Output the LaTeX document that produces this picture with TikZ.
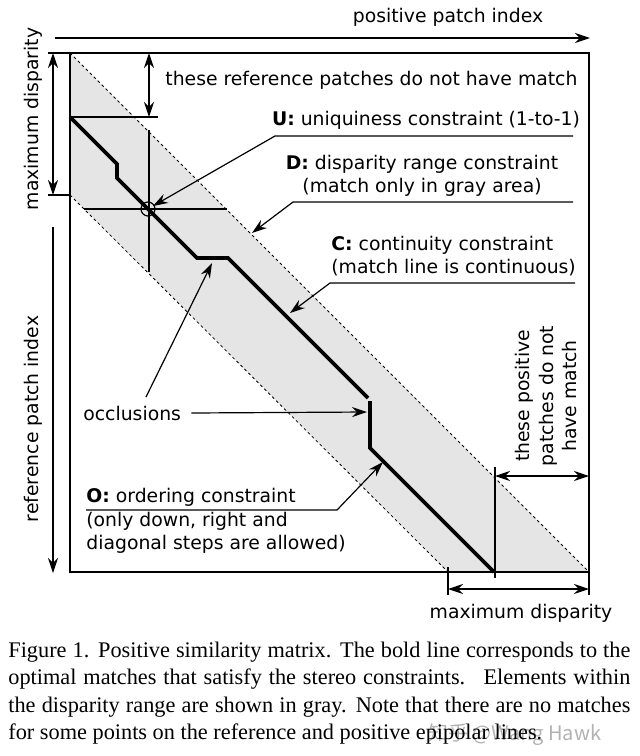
\documentclass[tikz,border=0pt]{standalone}
\usepackage{fontspec}
\setmainfont{Liberation Serif}
\newfontfamily\dejavu{DejaVu Sans}
\newfontfamily\cjk{Noto Sans CJK SC}
\usetikzlibrary{arrows.meta, positioning}

\begin{document}
\begin{tikzpicture}[
    x=0.5pt, y=-0.5pt,
    every node/.style={font=\dejavu\fontsize{9.4}{11.6}\selectfont, inner sep=0pt},
    boxline/.style={line width=0.9pt},
    fine/.style={line width=0.6pt},
    lim/.style={line width=0.4pt, dash pattern=on 1.4pt off 1.4pt},
    band/.style={fill=black!10},
    match/.style={line width=1.9pt},
    arr/.style={-{Stealth[length=7.5pt, width=5pt, inset=2.5pt]}, line width=0.6pt},
    darr/.style={{Stealth[length=7.5pt, width=5pt, inset=2.5pt]}-{Stealth[length=7.5pt, width=5pt, inset=2.5pt]}, line width=0.6pt},
    capline/.style={font=\rmfamily\fontsize{11.15}{13.8}\selectfont, anchor=base west},
  ]
  \useasboundingbox (0,0) rectangle (640,756);

  % matrix corners and the disparity band
  \coordinate (tl) at (70,53);
  \coordinate (tr) at (589,53);
  \coordinate (bl) at (70,572);
  \coordinate (br) at (589,572);
  \coordinate (dl) at (70,195);
  \coordinate (db) at (448,572);
  \fill[band] (tl) -- (br) -- (db) -- (dl) -- cycle;
  \draw[lim] (tl) -- (br);
  \draw[lim] (dl) -- (db);

  % uniqueness cross
  \draw[fine] (84,209) -- (227,209);
  \draw[fine] (149,130) -- (149,272);
  \node[draw, circle, line width=0.6pt, minimum size=7pt] (uc) at (148,209) {};

  % match line
  \draw[match] (70,117) -- (117,164) -- (117,178) -- (148,209) -- (197,258)
    -- (228,258) -- (368,398);
  \draw[match] (370,401) -- (370,448) -- (494,572);

  % frame
  \draw[boxline] (48,53) -- (tr) -- (589,595);
  \draw[boxline] (tl) -- (bl) -- (br);

  % axes
  \node (xlab) at (448,17) {positive patch index};
  \draw[arr] (55,38) -- (590,38);
  \node[rotate=90] (ylab) at (33,419) {reference patch index};
  \draw[arr] (53,227) -- (53,573);

  % maximum disparity, left and bottom
  \node[rotate=90] (mdl) at (33,119) {maximum disparity};
  \draw[fine] (48,195) -- (dl);
  \draw[darr] (53,53) -- (53,195);
  \node (mdb) at (521,613) {maximum disparity};
  \draw[fine] (448,567) -- (448,595);
  \draw[darr] (448,589) -- (589,589);

  % unmatched patches
  \node[anchor=west] (refno) at (165,80) {these reference patches do not have match};
  \draw[fine] (70,117) -- (158,117);
  \draw[darr] (149,53) -- (149,117);
  \node[rotate=90, align=center] (posno) at (546,396) {these positive\\patches do not\\have match};
  \draw[fine] (495,467) -- (495,578);
  \draw[darr] (495,476) -- (589,476);

  % constraints
  \node (uni) at (426,120) {\textbf{U:} uniquiness constraint (1-to-1)};
  \coordinate (uniR) at (573,136);
  \coordinate (uniL) at (275,136);
  \coordinate (uniT) at (153,206);
  \draw[arr] (uniR) -- (uniL) -- (uniT);

  \node[align=center] (dis) at (422,176) {\textbf{D:} disparity range constraint\\(match only in gray area)};
  \coordinate (disR) at (573,202);
  \coordinate (disL) at (293,202);
  \coordinate (disT) at (252,233);
  \draw[arr] (disR) -- (disL) -- (disT);

  \node[align=left, anchor=west] (con) at (331,256) {\textbf{C:} continuity constraint\\(match line is continuous)};
  \coordinate (conR) at (575,283);
  \coordinate (conL) at (330,283);
  \coordinate (conT) at (290,313);
  \draw[arr] (conR) -- (conL) -- (conT);

  \node[anchor=west] (occ) at (83,413) {occlusions};
  \coordinate (occA) at (367,412);
  \coordinate (occB) at (212,263);
  \draw[arr] (occ.east) ++(10,0) -- (occA);
  \draw[arr] (146,397) -- (occB);

  \node[align=left, anchor=west] (ord) at (86,521) {\textbf{O:} ordering constraint\\(only down, right and\\diagonal steps are allowed)};
  \coordinate (ordL) at (86,510);
  \coordinate (ordR) at (337,510);
  \coordinate (ordT) at (383,462);
  \draw[arr] (ordL) -- (ordR) -- (ordT);

  % caption
  \node[capline] (cap1) at (8,657) {\makebox[311pt][s]{Figure 1. Positive similarity matrix. The bold line corresponds to the}};
  \node[capline] (cap2) at (8,684) {\makebox[311pt][s]{optimal matches that satisfy the stereo constraints. \ Elements within}};
  \node[capline] (cap3) at (8,712) {\makebox[311pt][s]{the disparity range are shown in gray. Note that there are no matches}};
  \node[capline] (cap4) at (8,739) {for some points on the reference and positive epipolar lines.};
  \node[anchor=west, font=\cjk\fontsize{10}{12}\selectfont, text=black, text opacity=0.3] (wm) at (428,735) {知乎 @Wang Hawk};
\end{tikzpicture}
\end{document}
